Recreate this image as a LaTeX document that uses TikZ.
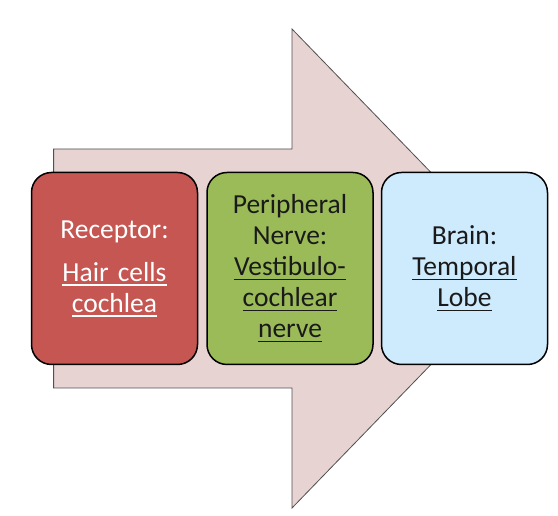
\documentclass[tikz,border=0pt]{standalone}
\usepackage{fontspec}
\setmainfont{Carlito}
\usepackage{tikz}
\usetikzlibrary{positioning}
\definecolor{arrowfill}{HTML}{E8D3D3}
\definecolor{arrowline}{HTML}{505050}
\definecolor{redbox}{HTML}{C55652}
\definecolor{greenbox}{HTML}{9BBB59}
\definecolor{bluebox}{HTML}{CDEBFC}
\definecolor{textdark}{HTML}{1A1A1A}
\newlength{\ulwd}
\newcommand{\undr}[1]{\leavevmode\settowidth{\ulwd}{#1}\rlap{\rule[-4.5pt]{\ulwd}{1.2pt}}#1}
\tikzset{stagebox/.style={draw=black,line width=1.5pt,rounded corners=20pt,
  minimum width=166pt,minimum height=192pt,text width=150pt,align=center,
  inner sep=0pt,font=\fontsize{27.5}{31}\selectfont}}

\begin{document}
\begin{tikzpicture}[x=1pt,y=1pt]
\useasboundingbox (0,0) rectangle (558,516);
\draw[arrowline,fill=arrowfill,line width=.8pt,line join=miter]
  (53.6,367)--(292,367)--(292,487)--(524,247.5)--(292,8)--(292,128)--(53.6,128)--cycle;
\node[stagebox,fill=redbox,text=white] (rec) at (114.5,247.5)
  {Receptor:\\[12pt]\undr{Hair cells}\\\undr{cochlea}};
\node[stagebox,fill=greenbox,text=textdark,right=8pt of rec] (nerve)
  {Peripheral\\Nerve:\\\undr{Vestibulo-}\\\undr{cochlear}\\\undr{nerve}};
\node[stagebox,fill=bluebox,text=textdark,right=7pt of nerve] (brain)
  {Brain:\\\undr{Temporal}\\\undr{Lobe}};
\end{tikzpicture}
\end{document}
